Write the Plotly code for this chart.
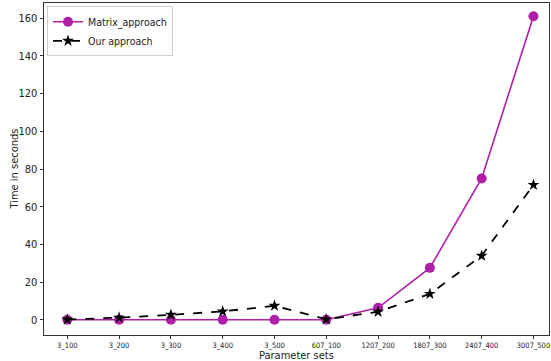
import plotly.graph_objects as go

categories = ["3_100", "3_200", "3_300", "3_400", "3_500", "607_100", "1207_200", "1807_300", "2407_400", "3007_500"]
matrix_approach = [0.1, 0.1, 0.1, 0.1, 0.1, 0.1, 6.4, 27.6, 75.0, 161.0]
our_approach = [0.2, 1.2, 2.7, 4.5, 7.5, 0.3, 4.3, 13.8, 34.0, 71.6]

FONT = "Liberation Sans Narrow, DejaVu Sans Condensed, DejaVu Sans"

fig = go.Figure()
fig.add_trace(go.Scatter(
    x=categories, y=matrix_approach, name="Matrix_approach", mode="lines+markers",
    line=dict(color="#b01fa8", width=1.6),
    marker=dict(symbol="circle", size=10, color="#b01fa8"),
))
fig.add_trace(go.Scatter(
    x=categories, y=our_approach, name="Our approach", mode="lines+markers",
    line=dict(color="black", width=1.8, dash="dash"),
    marker=dict(symbol="star", size=9, color="black"),
))

fig.update_layout(
    width=551, height=361,
    margin=dict(l=44, r=2, t=3, b=26),
    plot_bgcolor="white", paper_bgcolor="white",
    font=dict(family=FONT, color="#222222"),
    showlegend=True,
    legend=dict(x=0.006, y=0.99, xanchor="left", yanchor="top",
                bgcolor="rgba(255,255,255,0.8)", bordercolor="#d0d0d0", borderwidth=1,
                font=dict(size=10.5), tracegroupgap=0, itemwidth=30),
    xaxis=dict(
        type="category", range=[-0.45, 9.3], automargin=False,
        showline=True, linecolor="#333333", linewidth=1, mirror=True,
        ticks="outside", ticklen=3, tickcolor="#333333",
        tickfont=dict(size=7.5), showgrid=False, zeroline=False,
    ),
    yaxis=dict(
        range=[-8, 168], tickvals=[0, 20, 40, 60, 80, 100, 120, 140, 160], automargin=False,
        showline=True, linecolor="#333333", linewidth=1, mirror=True,
        ticks="outside", ticklen=3.5, tickcolor="#333333",
        tickfont=dict(size=11), showgrid=False, zeroline=False,
    ),
    annotations=[
        dict(text="Parameter sets", xref="paper", yref="paper", x=0.5, y=0,
             yshift=-12, xanchor="center", yanchor="top", showarrow=False,
             font=dict(size=11)),
        dict(text="Time in seconds", xref="paper", yref="paper", x=0, y=0.5,
             xshift=-22, xanchor="right", yanchor="middle", showarrow=False,
             textangle=-90, font=dict(size=11)),
    ],
)

fig.write_html("out.html", config={"displayModeBar": False},
               post_script="document.body.style.margin='0';")
